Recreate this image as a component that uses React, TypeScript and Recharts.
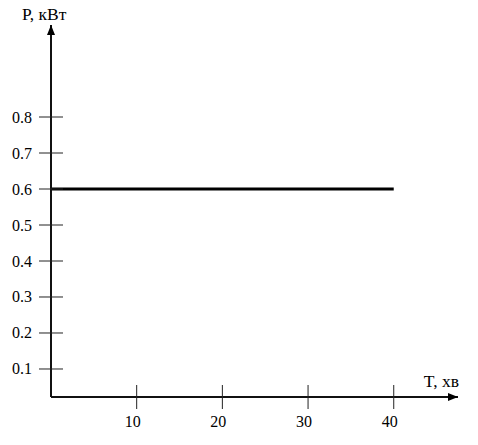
import { LineChart, Line, XAxis, YAxis, Label } from 'recharts';

// P, кВт over time T, хв — constant load
const timeValues = [0, 40];
const powerValues = [0.6, 0.6];

const xTicks = [10, 20, 30, 40];
const yTicks = [0.1, 0.2, 0.3, 0.4, 0.5, 0.6, 0.7, 0.8];

const xAxisTitle = 'T, хв';
const yAxisTitle = 'P, кВт';

// axis ranges (the x axis sits a little above P = 0 in the original)
const X_DOMAIN: [number, number] = [0, 47.5];
const Y_DOMAIN: [number, number] = [0.0222, 1.0556];

const data = timeValues.map((t, i) => ({ t, p: powerValues[i] }));

const textStyle = { fontFamily: 'Liberation Serif, serif', fontSize: 16 };
const titleStyle = { fontFamily: 'Liberation Serif, serif', fontSize: 17.5 };

// tick that crosses the axis, like the hand drawn original
const XTick = (props: any) => {
  const { x, y, payload } = props;
  return (
    <g>
      <line x1={x} x2={x} y1={y - 12} y2={y + 12} stroke="#222" strokeWidth={1} />
      <text x={x - 4} y={y + 30} textAnchor="middle" style={textStyle} fill="#000">
        {payload.value}
      </text>
    </g>
  );
};

const YTick = (props: any) => {
  const { x, y, payload } = props;
  return (
    <g>
      <line x1={x - 12} x2={x + 12} y1={y} y2={y} stroke="#222" strokeWidth={1} />
      <text x={x - 19} y={y + 5.5} textAnchor="end" style={textStyle} fill="#000">
        {Number(payload.value).toFixed(1)}
      </text>
    </g>
  );
};

export default function App() {
  return (
    <div style={{ position: 'absolute', left: 0, top: 0, width: 478, height: 445, background: '#fff' }}>
      <LineChart
        width={478}
        height={445}
        data={data}
        margin={{ top: 25, right: 20, bottom: 0, left: 0 }}
      >
        <defs>
          <marker
            id="arrow"
            viewBox="0 0 10 8"
            refX={10}
            refY={4}
            markerWidth={10}
            markerHeight={8}
            markerUnits="userSpaceOnUse"
            orient="auto-start-reverse"
          >
            <path d="M0,0 L10,4 L0,8 z" fill="#000" />
          </marker>
        </defs>
        <XAxis
          dataKey="t"
          type="number"
          domain={X_DOMAIN}
          allowDataOverflow
          ticks={xTicks}
          interval={0}
          height={48}
          tickSize={0}
          tickMargin={0}
          tickLine={false}
          tick={<XTick />}
          axisLine={{ stroke: '#111', strokeWidth: 2, markerEnd: 'url(#arrow)' }}
        >
          <Label
            content={(props: any) => {
              const vb = props.viewBox;
              return (
                <text x={vb.x + vb.width + 1} y={vb.y - 10} textAnchor="end" style={titleStyle} fill="#000">
                  {xAxisTitle}
                </text>
              );
            }}
          />
        </XAxis>
        <YAxis
          type="number"
          domain={Y_DOMAIN}
          allowDataOverflow
          ticks={yTicks}
          interval={0}
          width={51}
          tickSize={0}
          tickMargin={0}
          tickLine={false}
          tick={<YTick />}
          axisLine={{ stroke: '#111', strokeWidth: 2, markerStart: 'url(#arrow)' }}
        >
          <Label
            content={(props: any) => {
              const vb = props.viewBox;
              return (
                <text x={vb.x + vb.width - 29} y={vb.y - 5} textAnchor="start" style={titleStyle} fill="#000">
                  {yAxisTitle}
                </text>
              );
            }}
          />
        </YAxis>
        <Line
          type="linear"
          dataKey="p"
          stroke="#000"
          strokeWidth={3}
          dot={false}
          activeDot={false}
          isAnimationActive={false}
        />
      </LineChart>
    </div>
  );
}
